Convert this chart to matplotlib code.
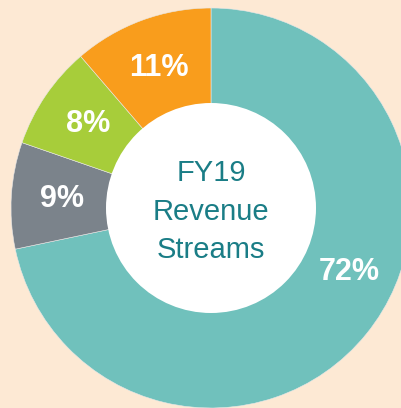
import matplotlib.pyplot as plt
from matplotlib.patches import Circle
import numpy as np

# data (clockwise from 12 o'clock), shares
labels = ['Main', 'Other A', 'Other B', 'Other C']
shares = [71.7, 8.6, 8.4, 11.3]
colors = ['#70c1bc', '#7b838b', '#a7cd3a', '#f99d1c']
center_lines = ['FY19', 'Revenue', 'Streams']
bg = '#fde9d4'

fig = plt.figure(figsize=(4.01, 4.08), dpi=100, facecolor=bg)
ax = fig.add_axes([0, 0, 1, 1])
ax.set_facecolor(bg)

wedges, texts, autotexts = ax.pie(
    shares, colors=colors, startangle=90, counterclock=False,
    autopct='%.0f%%', pctdistance=0.745,
    wedgeprops=dict(edgecolor='#e8e8e8', linewidth=0.4),
    textprops=dict(color='white', fontsize=22, fontweight='bold',
                   family=['Liberation Sans', 'DejaVu Sans']))

# big slice label sits lower right, not at the slice middle
ang = np.deg2rad(-25)
autotexts[0].set_position((0.76 * np.cos(ang), 0.76 * np.sin(ang)))

# white hole
ax.add_patch(Circle((0, 0), 0.525, facecolor='white', edgecolor='none', zorder=3))
for line, y in zip(center_lines, [0.135, -0.06, -0.25]):
    ax.text(0, y, line, ha='center', va='baseline', fontsize=21,
            color='#1a7d86', zorder=4, family=['Liberation Sans', 'DejaVu Sans'])

ax.set_xlim(-1.055, 0.95)
ax.set_ylim(-1.0, 1.04)
ax.set_aspect('equal')
ax.axis('off')

fig.savefig('out.png', dpi=100, facecolor=bg)
